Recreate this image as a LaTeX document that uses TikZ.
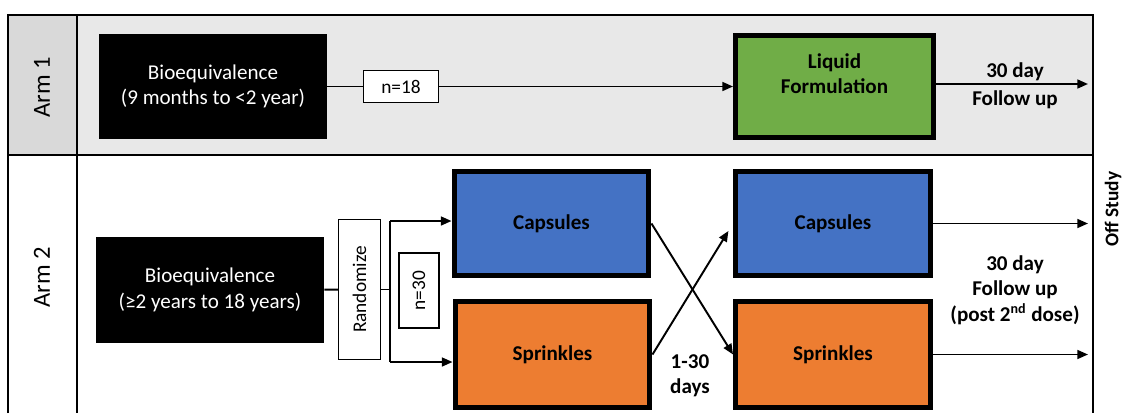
\documentclass[tikz,border=0pt]{standalone}
\usepackage{fontspec}
\setmainfont{Carlito}
\usepackage{tikz}
\usetikzlibrary {arrows.meta}

\begin{document}
\begin{tikzpicture}[x=0.02cm,y=-0.02cm,>={Triangle[length=6pt,width=5pt]}]
    \tikzstyle{cohort} = [fill=black,text=white,align=center,font=\fontsize{12}{14.4}\selectfont,minimum width=4.56cm,minimum height=2.12cm]
    \tikzstyle{dose} = [draw,line width=0.1cm,align=center,font=\fontsize{12}{14.4}\selectfont\bfseries,minimum width=3.9cm,minimum height=2.08cm]
    \tikzstyle{tag} = [draw,line width=0.6pt,fill=white,font=\fontsize{11}{13}\selectfont]
    \tikzstyle{note} = [align=center,font=\fontsize{12}{14.4}\selectfont\bfseries]
    \tikzstyle{arm} = [rotate=90,font=\fontsize{14}{16}\selectfont]
    \tikzstyle{link} = [line width=1.1pt]
    \useasboundingbox (0,0) rectangle (1123,413);
    % frame
    \fill [gray!18] (77,15) rectangle (1093,155);
    \fill [gray!30] (8,15) rectangle (77,155);
    \draw [line width=1.6pt] (8,413) -- (8,15) -- (1093,15) -- (1093,413);
    \draw [line width=1.2pt] (77,15) -- (77,413);
    \draw [line width=1.2pt] (8,155) -- (1093,155);
    \node [arm] (arm1) at (42,87) {Arm 1};
    \node [arm] (arm2) at (42,277) {Arm 2};
    \node [rotate=90,font=\fontsize{11}{13}\selectfont\bfseries] (off) at (1113,209) {Off Study};
    % arm 1
    \node [cohort] (bio1) at (213,86.5) {Bioequivalence\\(9 months to <2 year)};
    \node [tag,minimum width=1.5cm,minimum height=0.64cm] (n18) at (401,86.5) {n=18};
    \node [dose,fill={rgb,255:red,112;green,173;blue,71},minimum width=3.96cm,minimum height=2.04cm] (liq) at (834.5,86.5) {Liquid\\Formulation\\~};
    \coordinate (end1) at (1088,84);
    \node [note] (fu1a) at (1015,72) {30 day};
    \node [note] (fu1b) at (1015,100) {Follow up};
    % arm 2
    \node [cohort] (bio2) at (210,290) {Bioequivalence\\(≥2 years to 18 years)};
    \node [tag,rotate=90,minimum width=2.8cm,minimum height=0.84cm] (rand) at (359.5,289.5) {Randomize};
    \node [tag,rotate=90,minimum width=1.5cm,minimum height=0.8cm] (n30) at (419,290.5) {n=30};
    \coordinate (split) at (390,289.5);
    \coordinate (s1) at (390,221);
    \coordinate (s2) at (390,362);
    \node [dose,fill={rgb,255:red,68;green,114;blue,196}] (cap1) at (551.5,223.5) {Capsules};
    \node [dose,fill={rgb,255:red,237;green,125;blue,49},minimum height=2.12cm] (spr1) at (552.5,354.5) {Sprinkles};
    \node [dose,fill={rgb,255:red,68;green,114;blue,196}] (cap2) at (833,223.5) {Capsules};
    \node [dose,fill={rgb,255:red,237;green,125;blue,49},minimum height=2.12cm] (spr2) at (833,354.5) {Sprinkles};
    \node [note] (wash) at (690,376) {1-30\\days};
    \coordinate (end2) at (1088,223.5);
    \coordinate (end3) at (1088,354.5);
    \node [note] (fu2) at (1015,290) {30 day\\Follow up\\(post 2\textsuperscript{nd} dose)};
    % connectors
    \draw [link] (bio1) -- (n18);
    \draw [link,->] (n18) -- (liq);
    \draw [link,->] (liq.east |- end1) -- (end1);
    \draw [link] (bio2) -- (rand);
    \draw [link] (rand.south) -- (split);
    \draw [link] (s1) -- (s2);
    \draw [link,->] (s1) -- (s1 -| cap1.west);
    \draw [link,->] (s2) -- (s2 -| spr1.west);
    \draw [link,->] (cap1.east) -- (spr2.west);
    \draw [link,->,shorten >=5pt] (spr1.east) -- (cap2.west);
    \draw [link,->] (cap2) -- (end2);
    \draw [link,->] (spr2) -- (end3);
\end{tikzpicture}
\end{document}
